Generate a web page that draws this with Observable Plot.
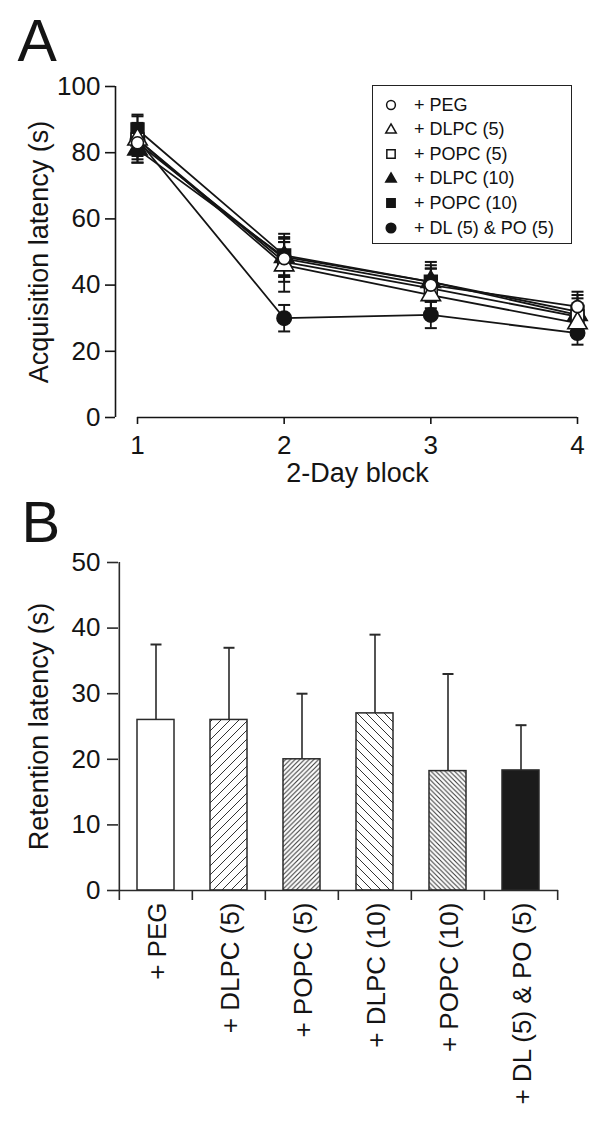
<!DOCTYPE html>
<html><head><meta charset="utf-8">
<script src="https://cdn.jsdelivr.net/npm/d3@7"></script>
<script src="https://cdn.jsdelivr.net/npm/@observablehq/plot@0.6"></script>
<style>
body{margin:0;background:#fff;font-family:"Liberation Sans",Arial,sans-serif;color:#111;}
#wrap{position:relative;width:600px;height:1124px;overflow:hidden;}
#a{position:absolute;left:0;top:0;}
#b{position:absolute;left:0;top:500px;}
#legend{position:absolute;left:372px;top:85px;width:200px;height:159px;border:1.6px solid #222;box-sizing:border-box;background:#fff;}
#legend .row{position:absolute;left:0;height:24px;display:flex;align-items:center;font-size:18px;white-space:nowrap;}
#legend svg{width:26px;height:24px;margin-left:5px;margin-right:10px;overflow:visible;}
</style></head>
<body><div id="wrap"><div id="a"></div><div id="b"></div><div id="legend"></div></div>
<script>
// ---- data ----
const blocks = [1, 2, 3, 4];
const groups = ["+ PEG", "+ DLPC (5)", "+ POPC (5)", "+ DLPC (10)", "+ POPC (10)", "+ DL (5) & PO (5)"];
const acqPEG    = [83, 48, 40, 33.5];
const acqDLPC5  = [84, 46, 37, 28.5];
const acqPOPC5  = [84, 47, 39, 30.5];
const acqDLPC10 = [81, 48.5, 41, 31];
const acqPOPC10 = [87, 49, 41, 32];
const acqDLPO   = [84, 30, 31, 25.5];
const semPEG    = [5, 5, 5, 4.5];
const semDLPC5  = [7, 8, 5, 4];
const semPOPC5  = [4, 6, 6, 4];
const semDLPC10 = [4, 6, 5, 5];
const semPOPC10 = [4.5, 6.5, 6, 5];
const semDLPO   = [5, 4, 4, 3.5];
const retention    = [26, 26, 20, 27, 18.2, 18.3];
const retentionSem = [11.5, 11, 10, 12, 14.8, 6.9];
const yTicksA = [0, 20, 40, 60, 80, 100];
const yTicksB = [0, 10, 20, 30, 40, 50];

// ---- styles ----
const ink = "#141414";
const symbols = ["circle", "triangle", "square", "triangle", "square", "circle"];
const symFill = ["white", "white", "white", ink, ink, ink];
const symR = [6, 7.2, 7.2, 7.2, 7.2, 7.2];
const barFill = ["white", "url(#hatchFwd)", "url(#hatchFwdDense)", "url(#hatchBack)", "url(#hatchBackDense)", "#1b1b1b"];
const font = "'Liberation Sans', Arial, Helvetica, sans-serif";
const d3Sym = {circle: d3.symbolCircle, triangle: d3.symbolTriangle, square: d3.symbolSquare};

const capSymbol = {draw(ctx, size) { const h = Math.sqrt(size / Math.PI); ctx.moveTo(-h, 0); ctx.lineTo(h, 0); }};

// ---- panel A ----
const acq = [acqPEG, acqDLPC5, acqPOPC5, acqDLPC10, acqPOPC10, acqDLPO];
const sem = [semPEG, semDLPC5, semPOPC5, semDLPC10, semPOPC10, semDLPO];
const rowsA = groups.flatMap((g, gi) => blocks.map((b, bi) => ({group: g, gi, block: b, value: acq[gi][bi], err: sem[gi][bi]})));
const xDomainA = [0.85, 4];
const drawOrder = [5, 4, 3, 2, 1, 0];

const plotA = Plot.plot({
  width: 600, height: 500,
  marginTop: 86, marginBottom: 83, marginLeft: 115, marginRight: 23,
  style: {fontFamily: font, color: ink, background: "transparent", overflow: "visible"},
  x: {domain: xDomainA},
  y: {domain: [0, 100]},
  marks: [
    Plot.ruleX([xDomainA[0]], {y1: 0, y2: 100, stroke: ink, strokeWidth: 1.6}),
    Plot.ruleY([0], {x1: blocks[0], x2: blocks[blocks.length - 1], stroke: ink, strokeWidth: 1.6}),
    Plot.axisY({ticks: yTicksA, tickSize: 10, tickPadding: 5, fontSize: 26, stroke: ink, strokeWidth: 1.6, label: null}),
    Plot.axisX({ticks: blocks, tickSize: 7, tickPadding: 11, fontSize: 26, stroke: ink, strokeWidth: 1.6, label: null, tickFormat: d3.format("d")}),
    Plot.text(["Acquisition latency (s)"], {text: d => d, frameAnchor: "left", textAnchor: "middle", lineAnchor: "middle", rotate: -90, dx: -76, fontSize: 27, fill: ink}),
    Plot.text(["2-Day block"], {text: d => d, x: (blocks[0] + blocks[3]) / 2, frameAnchor: "bottom", dy: 64, fontSize: 27, fill: ink}),
    Plot.text(["A"], {text: d => d, frameAnchor: "top-left", textAnchor: "start", lineAnchor: "middle", dx: -98, dy: -44, fontSize: 59, fill: ink}),
    Plot.line(rowsA, {x: "block", y: "value", z: "group", stroke: ink, strokeWidth: 1.8}),
    Plot.ruleX(rowsA, {x: "block", y1: d => d.value - d.err, y2: d => d.value + d.err, stroke: ink, strokeWidth: 1.8}),
    Plot.dot(rowsA, {x: "block", y: d => d.value + d.err, symbol: capSymbol, r: 6, stroke: ink, strokeWidth: 2}),
    Plot.dot(rowsA, {x: "block", y: d => d.value - d.err, symbol: capSymbol, r: 6, stroke: ink, strokeWidth: 2}),
    ...drawOrder.map(gi => Plot.dot(rowsA.filter(d => d.gi === gi), {x: "block", y: "value", symbol: symbols[gi], r: symR[gi], fill: symFill[gi], stroke: ink, strokeWidth: 1.6}))
  ]
});
document.getElementById("a").appendChild(plotA);

// legend
const leg = document.getElementById("legend");
const legR = [4.4, 3.9, 4.7, 3.9, 4.7, 4.8];
groups.forEach((g, gi) => {
  const row = document.createElement("div");
  row.className = "row";
  row.style.top = (7 + gi * 24.6) + "px";
  const path = d3.symbol(d3Sym[symbols[gi]], Math.PI * legR[gi] * legR[gi])();
  row.innerHTML = `<svg viewBox="-13 -12 26 24"><path d="${path}" fill="${symFill[gi]}" stroke="${ink}" stroke-width="1.5"/></svg><span>${g.replace("&", "&amp;")}</span>`;
  leg.appendChild(row);
});

// ---- panel B ----
const rowsB = groups.map((g, i) => ({group: g, value: retention[i], err: retentionSem[i]}));
const mlB = 118, mrB = 42, mtB = 62, mbB = 234, hB = 624;
const padInner = 0.5, padOuter = 0.25;
const step = (600 - mlB - mrB) / (groups.length - padInner + 2 * padOuter);
const frameHB = hB - mtB - mbB;

const plotB = Plot.plot({
  width: 600, height: hB,
  marginTop: mtB, marginBottom: mbB, marginLeft: mlB, marginRight: mrB,
  style: {fontFamily: font, color: ink, background: "transparent", overflow: "visible"},
  x: {type: "band", domain: groups, paddingInner: padInner, paddingOuter: padOuter, axis: null},
  y: {domain: [0, 50], axis: null},
  marks: [
    ...rowsB.map((d, i) => Plot.rectY([d], {x: "group", y: "value", fill: barFill[i], stroke: "#2a2a2a", strokeWidth: 1.5})),
    Plot.ruleX(rowsB, {x: "group", y1: "value", y2: d => d.value + d.err, stroke: "#2a2a2a", strokeWidth: 1.6}),
    Plot.dot(rowsB, {x: "group", y: d => d.value + d.err, symbol: capSymbol, r: 5.5, stroke: "#2a2a2a", strokeWidth: 2}),
    Plot.ruleY([0], {stroke: "#2a2a2a", strokeWidth: 1.6}),
    Plot.ruleX([groups[0]], {x: d => d, dx: -step / 2, y1: 0, y2: 50, stroke: "#2a2a2a", strokeWidth: 1.6}),
    Plot.ruleX(groups, {x: d => d, dx: -step / 2, insetTop: frameHB - 10, dy: 10, stroke: "#2a2a2a", strokeWidth: 1.6}),
    Plot.ruleX([groups[groups.length - 1]], {x: d => d, dx: step / 2, insetTop: frameHB - 10, dy: 10, stroke: "#2a2a2a", strokeWidth: 1.6}),
    Plot.axisY({ticks: yTicksB, tickSize: 11, tickPadding: 7, fontSize: 26, stroke: "#2a2a2a", strokeWidth: 1.6, label: null}),
    Plot.text(groups, {text: d => d, x: d => d, frameAnchor: "bottom", rotate: -90, textAnchor: "end", lineAnchor: "middle", dy: 12, dx: 2, fontSize: 26, fill: ink}),
    Plot.text(["Retention latency (s)"], {text: d => d, frameAnchor: "left", textAnchor: "middle", lineAnchor: "middle", rotate: -90, dx: -79, fontSize: 27, fill: ink}),
    Plot.text(["B"], {text: d => d, frameAnchor: "top-left", textAnchor: "start", lineAnchor: "middle", dx: -97, dy: -39, fontSize: 58, fill: ink})
  ]
});
// hatch patterns
const hatch = [["hatchFwd", 9, true], ["hatchFwdDense", 4.7, true], ["hatchBack", 9, false], ["hatchBackDense", 4.7, false]];
const defs = d3.select(plotB).insert("defs", ":first-child");
hatch.forEach(([id, s, fwd]) => {
  const p = defs.append("pattern").attr("id", id).attr("patternUnits", "userSpaceOnUse").attr("width", s).attr("height", s);
  p.append("rect").attr("width", s).attr("height", s).attr("fill", "white");
  const dPath = fwd
    ? `M0,${s} L${s},0 M${-s/4},${s/4} L${s/4},${-s/4} M${3*s/4},${5*s/4} L${5*s/4},${3*s/4}`
    : `M0,0 L${s},${s} M${-s/4},${3*s/4} L${s/4},${5*s/4} M${3*s/4},${-s/4} L${5*s/4},${s/4}`;
  p.append("path").attr("d", dPath).attr("stroke", "#333").attr("stroke-width", 1);
});
document.getElementById("b").appendChild(plotB);
</script>
</body></html>
